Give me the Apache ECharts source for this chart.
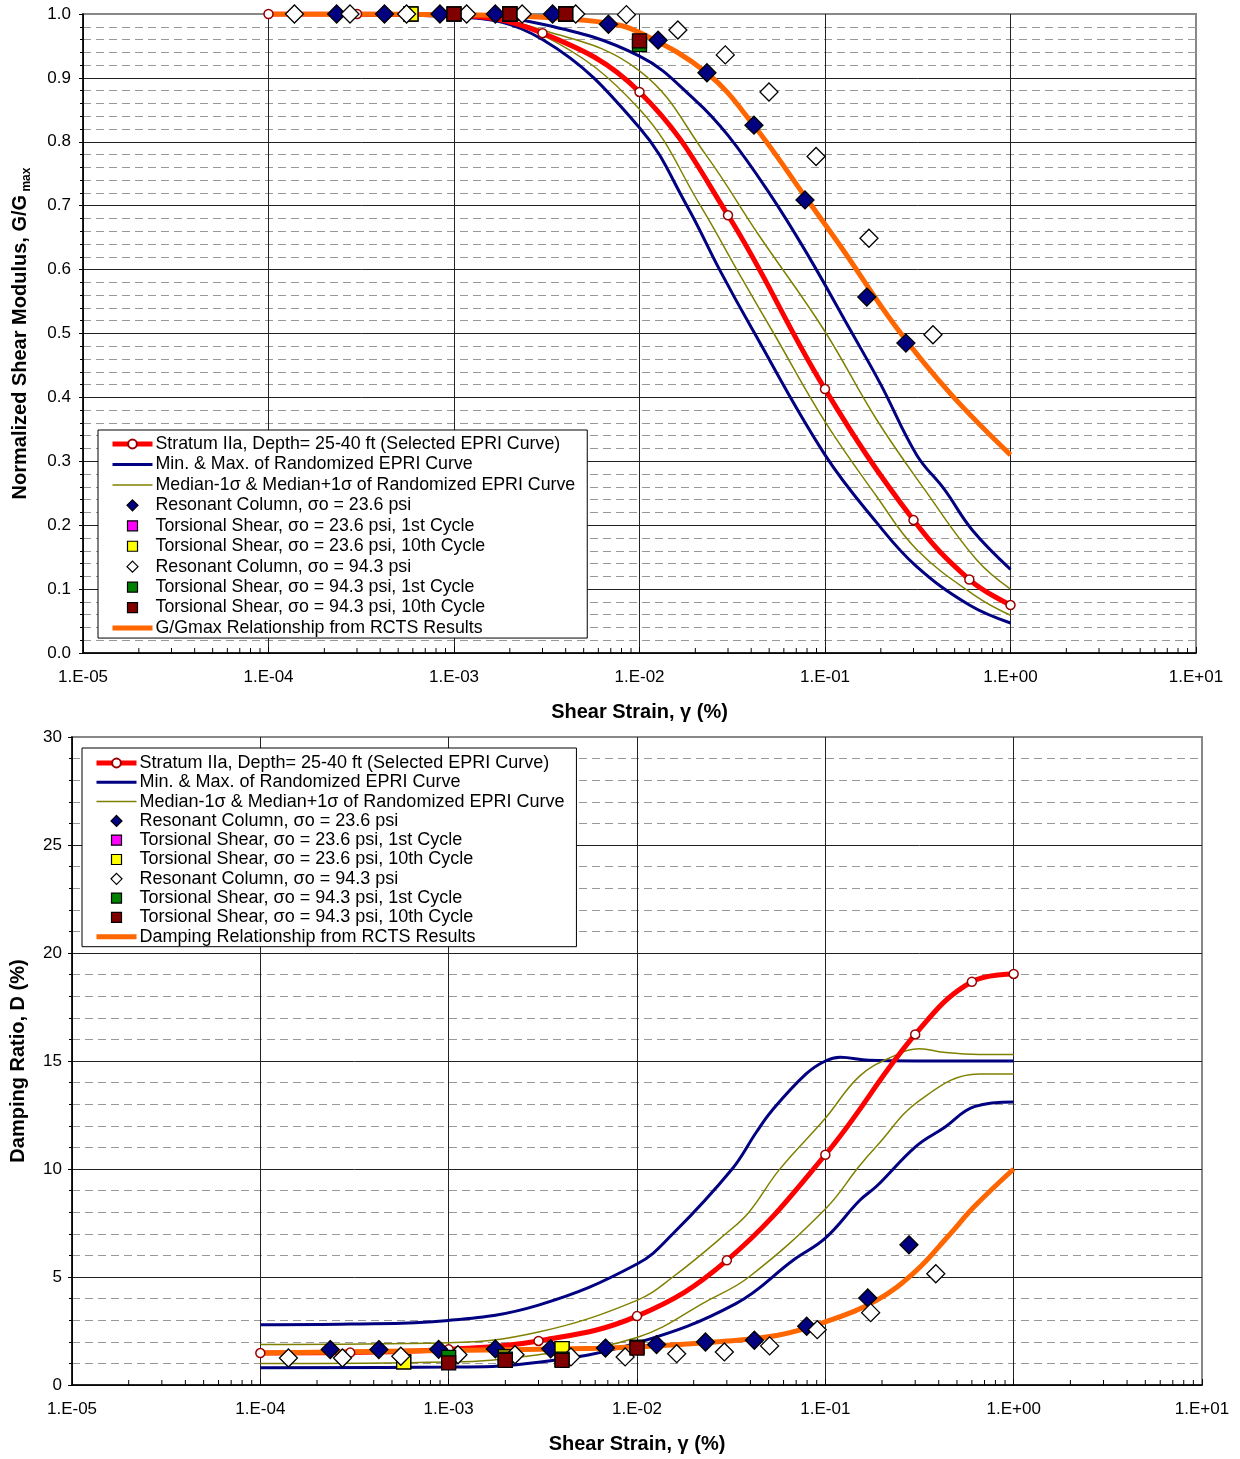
<!DOCTYPE html>
<html>
<head>
<meta charset="utf-8">
<script src="https://cdn.jsdelivr.net/npm/echarts@6.0.0/dist/echarts.min.js"></script>
<style>
  html, body { margin: 0; padding: 0; background: #fff; }
  #chart { width: 1240px; height: 1459px; }
</style>
</head>
<body>
<div id="chart"></div>
<script>
// ---- top panel: G/Gmax vs shear strain (%) ----
const gEpri = [[1e-4, 1.0], [3e-4, 1.0], [1e-3, 0.998], [3e-3, 0.97], [1e-2, 0.878], [3e-2, 0.685], [0.1, 0.413], [0.3, 0.208], [0.6, 0.115], [1, 0.075]]
const gMin = [[1e-4, 1.0], [3e-4, 0.999], [1e-3, 0.996], [3e-3, 0.96], [1e-2, 0.822], [0.018, 0.70], [0.027, 0.60], [0.0405, 0.507], [0.1, 0.31], [0.19, 0.204], [0.31, 0.136], [0.6, 0.075], [1, 0.047]]
const gLo = [[1e-4, 1.0], [1e-3, 0.998], [3e-3, 0.967], [1e-2, 0.851], [0.0213, 0.70], [0.035, 0.59], [0.053, 0.50], [0.1, 0.362], [0.19, 0.245], [0.312, 0.162], [0.65, 0.089], [1, 0.059]]
const gHi = [[1e-4, 1.0], [1e-3, 0.999], [3e-3, 0.975], [1e-2, 0.911], [0.023, 0.778], [0.043, 0.658], [0.098, 0.507], [0.19, 0.365], [0.344, 0.256], [0.66, 0.145], [1, 0.10]]
const gMax = [[1e-4, 1.0], [1e-3, 0.999], [3e-3, 0.984], [1e-2, 0.934], [0.02, 0.865], [0.03, 0.81], [0.05, 0.72], [0.08, 0.625], [0.136, 0.507], [0.2, 0.42], [0.312, 0.31], [0.44, 0.256], [0.62, 0.193], [1, 0.131]]
const gRcts = [[1e-4, 1.0], [1e-3, 0.999], [3e-3, 0.995], [6.7e-3, 0.986], [1e-2, 0.971], [0.023, 0.908], [0.041, 0.827], [0.08, 0.71], [0.121, 0.637], [0.246, 0.507], [0.477, 0.405], [1, 0.31]]

const gRc236 = [[2.33e-4, 1.0], [4.22e-4, 1.0], [8.4e-4, 1.0], [1.67e-3, 1.0], [3.4e-3, 1.0], [6.8e-3, 0.984], [0.0126, 0.959], [0.0231, 0.908], [0.0414, 0.826], [0.078, 0.709], [0.168, 0.557], [0.273, 0.485]]
const gTs236First = [[5.86e-4, 1.0], [2.0e-3, 1.0], [4.0e-3, 1.0]]
const gTs236Tenth = [[5.86e-4, 1.0], [2.0e-3, 1.0], [4.0e-3, 1.0]]
const gRc943 = [[1.38e-4, 1.0], [2.75e-4, 1.0], [5.55e-4, 1.0], [1.17e-3, 1.0], [2.33e-3, 1.0], [4.53e-3, 1.0], [8.5e-3, 0.999], [0.0161, 0.975], [0.029, 0.936], [0.0499, 0.878], [0.0895, 0.777], [0.1726, 0.649], [0.382, 0.498]]
const gTs943First = [[1e-3, 1.0], [2.0e-3, 1.0], [4.0e-3, 1.0], [1e-2, 0.952]]
const gTs943Tenth = [[1e-3, 1.0], [2.0e-3, 1.0], [4.0e-3, 1.0], [1e-2, 0.958]]

// ---- bottom panel: damping ratio (%) vs shear strain (%) ----
const dEpri = [[1e-4, 1.48], [3e-4, 1.50], [1e-3, 1.65], [3e-3, 2.04], [1e-2, 3.19], [3e-2, 5.77], [0.1, 10.66], [0.3, 16.23], [0.6, 18.67], [1, 19.03]]
const dMax = [[1e-4, 2.79], [3e-4, 2.82], [1e-3, 2.99], [3e-3, 3.7], [1e-2, 5.6], [0.0155, 7.0], [0.032, 10.0], [0.043, 11.7], [0.052, 12.7], [0.079, 14.4], [0.1, 15.0], [0.12, 15.17], [0.17, 15.03], [0.3, 15.0], [1, 15.0]]
const dHi = [[1e-4, 1.88], [1e-3, 1.96], [3e-3, 2.45], [1e-2, 3.92], [0.0155, 5.0], [0.0296, 7.0], [0.0393, 8.0], [0.057, 9.97], [0.1, 12.35], [0.152, 14.3], [0.227, 15.2], [0.317, 15.57], [0.425, 15.4], [0.655, 15.3], [1, 15.3]]
const dLo = [[1e-4, 0.99], [1e-3, 1.06], [3e-3, 1.4], [1e-2, 2.2], [0.0239, 3.92], [0.0393, 5.0], [0.1, 8.15], [0.152, 10.15], [0.187, 11.05], [0.317, 13.18], [0.655, 14.4], [1, 14.4]]
const dMin = [[1e-4, 0.8], [1e-3, 0.83], [3e-3, 1.05], [1e-2, 1.95], [0.0335, 3.77], [0.068, 5.8], [0.1, 6.8], [0.152, 8.54], [0.187, 9.2], [0.303, 11.05], [0.425, 11.9], [0.624, 12.9], [1, 13.1]]
const dRcts = [[1e-4, 1.48], [1e-3, 1.6], [6.4e-3, 1.7], [1e-2, 1.77], [0.027, 2.0], [0.056, 2.3], [0.1, 2.92], [0.187, 3.92], [0.3, 5.25], [0.45, 6.9], [0.62, 8.27], [1, 10.0]]

const dRc236 = [[2.35e-4, 1.64], [4.26e-4, 1.64], [8.85e-4, 1.65], [1.77e-3, 1.67], [3.48e-3, 1.68], [6.8e-3, 1.71], [0.0127, 1.87], [0.0231, 1.99], [0.042, 2.07], [0.0796, 2.72], [0.168, 4.03], [0.278, 6.49]]
const dTs236First = [[5.77e-4, 1.07], [2.0e-3, 1.3], [4.0e-3, 1.68]]
const dTs236Tenth = [[5.77e-4, 1.07], [2.0e-3, 1.3], [4.0e-3, 1.68]]
const dRc943 = [[1.41e-4, 1.25], [2.73e-4, 1.25], [5.57e-4, 1.33], [1.12e-3, 1.40], [2.25e-3, 1.40], [4.46e-3, 1.30], [8.65e-3, 1.30], [0.01625, 1.45], [0.0291, 1.53], [0.0506, 1.81], [0.0906, 2.56], [0.174, 3.35], [0.386, 5.15]]
const dTs943First = [[1e-3, 1.28], [2.0e-3, 1.2], [4.0e-3, 1.2], [1e-2, 1.75]]
const dTs943Tenth = [[1e-3, 1.02], [2.0e-3, 1.14], [4.0e-3, 1.14], [1e-2, 1.71]]

const N_EPRI = 'Stratum IIa, Depth= 25-40 ft (Selected EPRI Curve)'
const N_MINMAX = 'Min. & Max. of Randomized EPRI Curve'
const N_SIGMA = 'Median-1σ & Median+1σ of Randomized EPRI Curve'
const N_RC236 = 'Resonant Column, σo = 23.6 psi'
const N_TS236A = 'Torsional Shear, σo = 23.6 psi, 1st Cycle'
const N_TS236B = 'Torsional Shear, σo = 23.6 psi, 10th Cycle'
const N_RC943 = 'Resonant Column, σo = 94.3 psi'
const N_TS943A = 'Torsional Shear, σo = 94.3 psi, 1st Cycle'
const N_TS943B = 'Torsional Shear, σo = 94.3 psi, 10th Cycle'
const N_GFIT = 'G/Gmax Relationship from RCTS Results'
const N_DFIT = 'Damping Relationship from RCTS Results'

const FONT = '"Liberation Sans", Arial, sans-serif'

const fmtStrain = (v) => {
  const e = Math.round(Math.log10(v))
  return '1.E' + (e < 0 ? '-' : '+') + String(Math.abs(e)).padStart(2, '0')
}

// minor tick positions of the log axis (2..9 in every decade)
const minorStrains = []
for (let e = -5; e < 1; e++) {
  for (let k = 2; k <= 9; k++) minorStrains.push([k * Math.pow(10, e), 0])
}

const xAxis = (gridIndex) => ({
  gridIndex,
  type: 'log',
  logBase: 10,
  min: 1e-5,
  max: 10,
  splitNumber: 6,
  name: 'Shear Strain, γ (%)',
  nameLocation: 'middle',
  nameGap: 49,
  nameTextStyle: { fontSize: 20, fontWeight: 'bold', color: '#000', fontFamily: FONT },
  axisLine: { lineStyle: { color: '#000', width: 1.5 } },
  axisTick: { inside: true, length: 6, lineStyle: { color: '#000' } },
  axisLabel: { formatter: fmtStrain, fontSize: 17, color: '#000', margin: 16, fontFamily: FONT },
  splitLine: { show: true, showMaxLine: false, lineStyle: { color: '#222', width: 1 } },
})

const yAxis = (gridIndex, opts) => ({
  gridIndex,
  type: 'value',
  nameLocation: 'middle',
  nameRotate: 90,
  axisLine: { show: true, lineStyle: { color: '#000', width: 1.5 } },
  axisTick: { show: true, length: 4, lineStyle: { color: '#000' } },
  minorTick: { show: true, splitNumber: 5, length: 3, lineStyle: { color: '#000' } },
  splitLine: { show: true, showMaxLine: false, lineStyle: { color: '#222', width: 1 } },
  minorSplitLine: { show: true, lineStyle: { color: '#999', width: 1, type: [8, 5] } },
  ...opts,
})

const line = (name, data, color, width, idx, z) => ({
  type: 'line',
  name,
  data,
  xAxisIndex: idx,
  yAxisIndex: idx,
  symbol: 'none',
  smooth: 0.4,
  lineStyle: { color, width },
  itemStyle: { color },
  z,
  silent: true,
})

const marks = (name, data, symbol, size, fill, idx, z = 6) => ({
  type: 'scatter',
  name,
  data,
  xAxisIndex: idx,
  yAxisIndex: idx,
  symbol,
  symbolSize: size,
  itemStyle: { color: fill, borderColor: '#000', borderWidth: 1.3, opacity: 1 },
  z,
  silent: true,
})

const epriLine = (data, idx) => ({
  ...line(N_EPRI, data, '#ff0000', 5, idx, 3),
  symbol: 'circle',
  symbolSize: 9,
  showSymbol: false,
  itemStyle: { color: '#fff', borderColor: '#990000', borderWidth: 1.5 },
})

const epriMarks = (data, idx) => ({
  ...marks(N_EPRI, data, 'circle', 9, '#fff', idx, 5),
  itemStyle: { color: '#fff', borderColor: '#990000', borderWidth: 1.5, opacity: 1 },
})

const minorTicks = (idx) => ({
  type: 'custom',
  xAxisIndex: idx,
  yAxisIndex: idx,
  data: minorStrains,
  silent: true,
  clip: false,
  z: 7,
  renderItem: (params, api) => {
    const p = api.coord([api.value(0), api.value(1)])
    return {
      type: 'line',
      shape: { x1: p[0], y1: p[1], x2: p[0], y2: p[1] - 5 },
      style: { stroke: '#000', lineWidth: 1 },
    }
  },
})

const panelSeries = (idx, d) => [
  line(N_MINMAX, d.min, '#000080', 3, idx, 2),
  line(N_MINMAX, d.max, '#000080', 3, idx, 2),
  line(N_SIGMA, d.lo, '#808000', 1.5, idx, 2),
  line(N_SIGMA, d.hi, '#808000', 1.5, idx, 2),
  epriLine(d.epri, idx),
  line(d.fitName, d.fit, '#ff6600', 5, idx, 4),
  epriMarks(d.epri, idx),
  marks(N_RC236, d.rc236, 'diamond', 18, '#000080', idx),
  marks(N_TS236A, d.ts236a, 'rect', 14, '#ff00ff', idx),
  marks(N_TS236B, d.ts236b, 'rect', 14, '#ffff00', idx),
  marks(N_RC943, d.rc943, 'diamond', 18, '#ffffff', idx),
  marks(N_TS943A, d.ts943a, 'rect', 14, '#008000', idx),
  marks(N_TS943B, d.ts943b, 'rect', 14, '#800000', idx),
  minorTicks(idx),
]

// legend icons drawn inside a 40 x 11 box (the leading moves fix the box)
const BOX = 'path://M0,0M40,11'
const lineIcon = (w) => `${BOX}M0,${5.5 - w / 2}L40,${5.5 - w / 2}L40,${5.5 + w / 2}L0,${5.5 + w / 2}Z`
const DIAMOND_ICON = `${BOX}M20,-0.5L26,5.5L20,11.5L14,5.5Z`
const SQUARE_ICON = `${BOX}M15,0.5L25,0.5L25,10.5L15,10.5Z`

const legendData = (fitName) => [
  { name: N_EPRI, lineStyle: { width: 5 } },
  { name: N_MINMAX, icon: lineIcon(3), itemStyle: { borderWidth: 0 } },
  { name: N_SIGMA, icon: lineIcon(1.5), itemStyle: { borderWidth: 0 } },
  { name: N_RC236, icon: DIAMOND_ICON, itemStyle: { borderWidth: 1.2 } },
  { name: N_TS236A, icon: SQUARE_ICON, itemStyle: { borderWidth: 1.2 } },
  { name: N_TS236B, icon: SQUARE_ICON, itemStyle: { borderWidth: 1.2 } },
  { name: N_RC943, icon: DIAMOND_ICON, itemStyle: { borderWidth: 1.2 } },
  { name: N_TS943A, icon: SQUARE_ICON, itemStyle: { borderWidth: 1.2 } },
  { name: N_TS943B, icon: SQUARE_ICON, itemStyle: { borderWidth: 1.2 } },
  { name: fitName, icon: lineIcon(5), itemStyle: { borderWidth: 0 } },
]

const legend = (left, top, fontSize, gap, padding, fitName) => ({
  orient: 'vertical',
  left,
  top,
  selectedMode: false,
  backgroundColor: '#fff',
  borderColor: '#000',
  borderWidth: 1,
  padding,
  itemWidth: 40,
  itemHeight: 11,
  itemGap: gap,
  textStyle: { fontSize, lineHeight: 18, color: '#000', fontFamily: FONT, padding: [0, 0, 0, -2] },
  data: legendData(fitName),
})

const chart = echarts.init(document.getElementById('chart'), null, { renderer: 'canvas' })

chart.setOption({
  animation: false,
  backgroundColor: '#fff',
  textStyle: { fontFamily: FONT },
  grid: [
    { left: 83, top: 14, width: 1113, height: 639, show: true, borderColor: '#888', borderWidth: 2 },
    { left: 71, top: 737, width: 1131, height: 648, show: true, borderColor: '#888', borderWidth: 2 },
  ],
  xAxis: [xAxis(0), xAxis(1)],
  yAxis: [
    yAxis(0, {
      min: 0,
      max: 1,
      interval: 0.1,
      name: '{a|Normalized Shear Modulus, G/G}{b| max}',
      nameGap: 50,
      nameTextStyle: {
        rich: {
          a: { fontSize: 20, fontWeight: 'bold', color: '#000', fontFamily: FONT, lineHeight: 26 },
          b: { fontSize: 12, fontWeight: 'bold', color: '#000', fontFamily: FONT, lineHeight: 26, verticalAlign: 'bottom' },
        },
      },
      axisLabel: { formatter: (v) => v.toFixed(1), fontSize: 17, color: '#000', margin: 12, fontFamily: FONT },
    }),
    yAxis(1, {
      min: 0,
      max: 30,
      interval: 5,
      name: 'Damping Ratio, D (%)',
      nameGap: 44,
      nameTextStyle: { fontSize: 20, fontWeight: 'bold', color: '#000', fontFamily: FONT },
      axisLabel: { fontSize: 17, color: '#000', margin: 10, fontFamily: FONT },
    }),
  ],
  legend: [
    legend(98, 430, 17.8, 2.45, [5, 12, 1, 12], N_GFIT),
    legend(82, 748, 18, 1.3, [6, 12, 1, 12], N_DFIT),
  ],
  series: [
    ...panelSeries(0, {
      epri: gEpri, min: gMin, max: gMax, lo: gLo, hi: gHi, fit: gRcts, fitName: N_GFIT,
      rc236: gRc236, ts236a: gTs236First, ts236b: gTs236Tenth,
      rc943: gRc943, ts943a: gTs943First, ts943b: gTs943Tenth,
    }),
    ...panelSeries(1, {
      epri: dEpri, min: dMin, max: dMax, lo: dLo, hi: dHi, fit: dRcts, fitName: N_DFIT,
      rc236: dRc236, ts236a: dTs236First, ts236b: dTs236Tenth,
      rc943: dRc943, ts943a: dTs943First, ts943b: dTs943Tenth,
    }),
  ],
})
</script>
</body>
</html>
